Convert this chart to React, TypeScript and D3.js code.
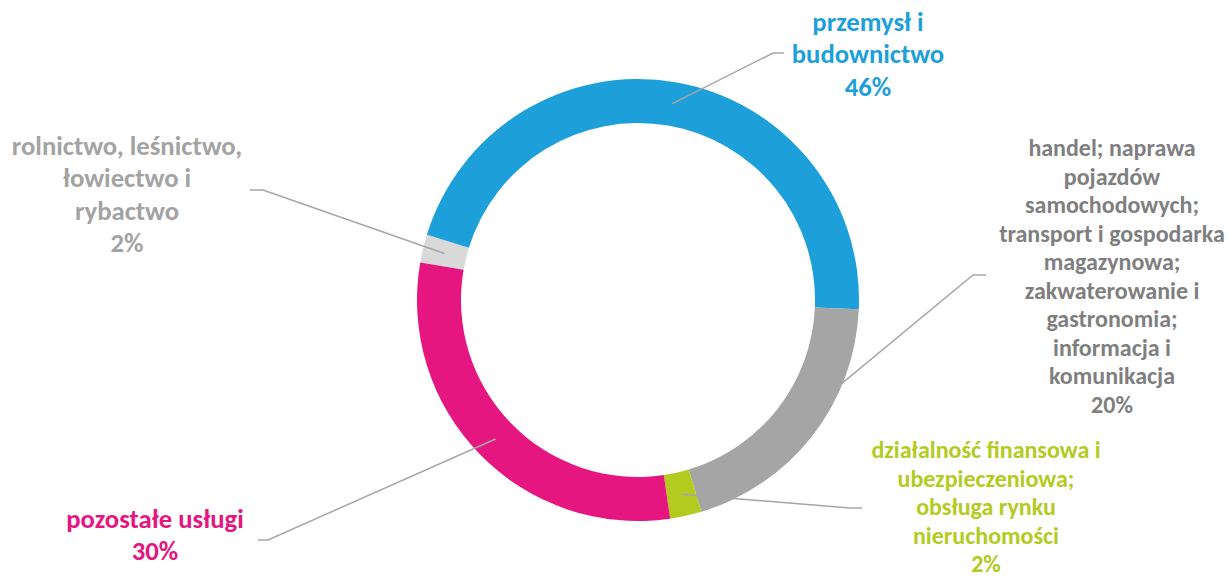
import React from "react";
import * as d3 from "d3";

const categories = [
  "rolnictwo, leśnictwo, łowiectwo i rybactwo",
  "przemysł i budownictwo",
  "handel; naprawa pojazdów samochodowych; transport i gospodarka magazynowa; zakwaterowanie i gastronomia; informacja i komunikacja",
  "działalność finansowa i ubezpieczeniowa; obsługa rynku nieruchomości",
  "pozostałe usługi",
];
const values = [2.05, 45.9, 19.7, 2.3, 30.05];
const labelLines = [
  ["rolnictwo, leśnictwo,", "łowiectwo i", "rybactwo"],
  ["przemysł i", "budownictwo"],
  ["handel; naprawa", "pojazdów", "samochodowych;", "transport i gospodarka", "magazynowa;", "zakwaterowanie i", "gastronomia;", "informacja i", "komunikacja"],
  ["działalność finansowa i", "ubezpieczeniowa;", "obsługa rynku", "nieruchomości"],
  ["pozostałe usługi"],
];
const sliceColors = ["#D9D9D9", "#1D9FDA", "#A5A5A5", "#B3CB1F", "#E5167F"];
const textColors = ["#A3A3A3", "#1D9FDA", "#7F7F7F", "#B3CB1F", "#E5167F"];

// layout
const W = 1230, H = 576;
const CX = 638, CY = 300, R_OUT = 221, R_IN = 177;
const START = (-80.2 * Math.PI) / 180;
const layout = [
  { cx: 127, y0: 154.5, dy: 32.5, fs: 26.7, elbow: [263, 190], end: [250, 190] },
  { cx: 868, y0: 30.5, dy: 32.5, fs: 26.7, elbow: [773, 53], end: [784, 53] },
  { cx: 1112, y0: 156, dy: 28.5, fs: 24, elbow: [973, 275], end: [986, 275] },
  { cx: 986, y0: 458, dy: 28.6, fs: 24, elbow: [850, 508], end: [862, 508] },
  { cx: 155, y0: 527.5, dy: 32.5, fs: 26.7, elbow: [268, 540], end: [258, 540] },
];

export default function App() {
  const pie = d3.pie<number>().sort(null).value((d) => d).startAngle(START).endAngle(START + 2 * Math.PI);
  const arcs = pie(values);
  const arc = d3.arc<d3.PieArcDatum<number>>().innerRadius(R_IN).outerRadius(R_OUT);
  const total = d3.sum(values);
  const line = d3.line();
  return (
    <svg width={W} height={H} style={{ position: "absolute", left: 0, top: 0, background: "#fff" }}
      fontFamily="Carlito, Lato, sans-serif" fontWeight="bold">
      <g transform={`translate(${CX},${CY})`}>
        {arcs.map((a, i) => (
          <path key={categories[i]} d={arc(a) || ""} fill={sliceColors[i]} />
        ))}
      </g>
      {arcs.map((a, i) => {
        const c = arc.centroid(a);
        const L = layout[i];
        return (
          <path key={"l" + i}
            d={line([[CX + c[0], CY + c[1]], L.elbow as [number, number], L.end as [number, number]]) || ""}
            fill="none" stroke="#A6A6A6" strokeWidth={1.5} />
        );
      })}
      {labelLines.map((lines, i) => {
        const L = layout[i];
        const all = [...lines, `${Math.round((values[i] / total) * 100)}%`];
        return (
          <text key={"t" + i} fill={textColors[i]} fontSize={L.fs} textAnchor="middle">
            {all.map((s, j) => (
              <tspan key={j} x={L.cx} y={L.y0 + j * L.dy}>{s}</tspan>
            ))}
          </text>
        );
      })}
    </svg>
  );
}
